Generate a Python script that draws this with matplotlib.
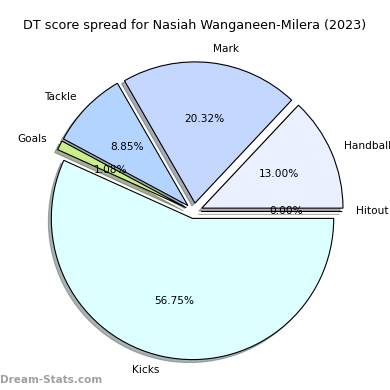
import matplotlib
matplotlib.use("Agg")
import matplotlib.pyplot as plt

# Score categories and their share of DT score (%)
labels = ["Hitout", "Handball", "Mark", "Tackle", "Goals", "Kicks"]
shares = [0.00, 13.00, 20.32, 8.85, 1.08, 56.75]
colors = ["#e6e6e6", "#eaf0ff", "#c4d8ff", "#b3d4ff", "#c9ee8a", "#dcffff"]
explode = [0.05, 0.06, 0.06, 0.06, 0.06, 0.05]

fig = plt.figure(figsize=(3.9, 3.9), dpi=100)
ax = fig.add_axes([17.5 / 390, 2 / 390, 353 / 390, 353 / 390])

wedges, texts, autotexts = ax.pie(
    shares, labels=labels, colors=colors, explode=explode,
    autopct="%1.2f%%", startangle=0,
    shadow={"ox": -0.015, "oy": -0.015, "shade": 0.6},
    wedgeprops={"edgecolor": "black", "linewidth": 0.8},
    textprops={"fontsize": 7.6},
)

fig.text(0.5, 1 - 26 / 390, "DT score spread for Nasiah Wanganeen-Milera (2023)",
         ha="center", va="center", fontsize=9.2)
fig.text(0.0, 10 / 390, "Dream-Stats.com", ha="left", va="center",
         fontsize=7.5, color="#a0a0a0", fontweight="bold")

fig.savefig("out.png", dpi=100)
plt.close(fig)
